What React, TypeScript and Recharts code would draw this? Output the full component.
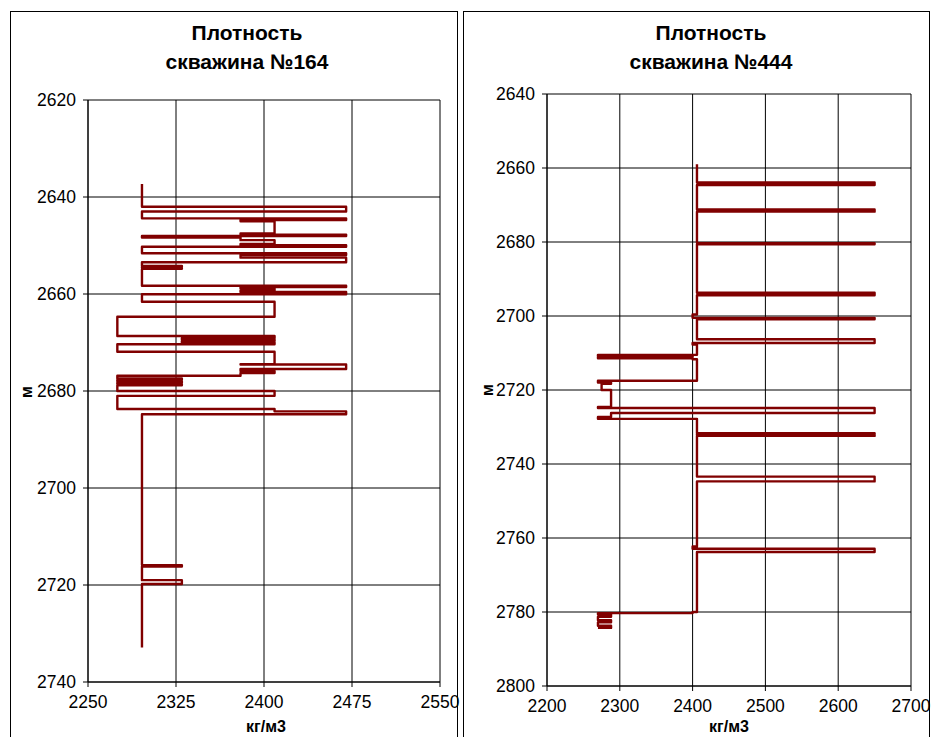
import { LineChart, Line, XAxis, YAxis, CartesianGrid } from "recharts";

// скважина №164 — path of the density log (kg/m3 vs depth m)
const well164Density = [
  2296, 2296, 2470, 2470, 2296, 2296, 2470, 2470, 2380, 2380, 2409, 2409, 2380, 2380, 2470, 2470,
  2296, 2296, 2380, 2380, 2409, 2409, 2380, 2380, 2470, 2470, 2296, 2296, 2470, 2470, 2380, 2380,
  2470, 2470, 2296, 2296, 2330, 2330, 2296, 2296, 2330, 2330, 2296, 2296, 2470, 2470, 2380, 2380,
  2409, 2409, 2380, 2380, 2470, 2470, 2296, 2296, 2409, 2409, 2275, 2275, 2409, 2409, 2330, 2330,
  2409, 2409, 2330, 2330, 2409, 2409, 2275, 2275, 2409, 2409, 2380, 2380, 2470, 2470, 2380, 2380,
  2409, 2409, 2380, 2380, 2275, 2275, 2330, 2330, 2275, 2275, 2330, 2330, 2275, 2275, 2330, 2330,
  2275, 2275, 2409, 2409, 2275, 2275, 2409, 2409, 2470, 2470, 2296, 2296, 2330, 2330, 2296, 2296,
  2330, 2330, 2296, 2296,
];
const well164Depth = [
  2637.3, 2642.0, 2642.0, 2643.0, 2643.0, 2644.4, 2644.4, 2644.75, 2644.75, 2645.0, 2645.0, 2647.5, 2647.5, 2647.75, 2647.75, 2648.05,
  2648.05, 2648.35, 2648.35, 2648.9, 2648.9, 2649.7, 2649.7, 2649.95, 2649.95, 2650.25, 2650.25, 2651.6, 2651.6, 2651.95, 2651.95, 2652.5,
  2652.5, 2653.45, 2653.45, 2654.2, 2654.2, 2654.4, 2654.4, 2654.6, 2654.6, 2654.8, 2654.8, 2658.3, 2658.3, 2658.55, 2658.55, 2658.85,
  2658.85, 2659.3, 2659.3, 2659.6, 2659.6, 2660.05, 2660.05, 2661.6, 2661.6, 2664.7, 2664.7, 2668.65, 2668.65, 2669.1, 2669.1, 2669.4,
  2669.4, 2669.7, 2669.7, 2670.0, 2670.0, 2670.35, 2670.35, 2671.9, 2671.9, 2674.45, 2674.45, 2674.55, 2674.55, 2675.45, 2675.45, 2675.9,
  2675.9, 2676.3, 2676.3, 2676.85, 2676.85, 2677.4, 2677.4, 2677.7, 2677.7, 2678.0, 2678.0, 2678.3, 2678.3, 2678.55, 2678.55, 2678.8,
  2678.8, 2680.0, 2680.0, 2681.0, 2681.0, 2683.7, 2683.7, 2684.2, 2684.2, 2684.8, 2684.8, 2715.9, 2715.9, 2716.2, 2716.2, 2719.0,
  2719.0, 2719.8, 2719.8, 2732.9,
];

// скважина №444
const well444Density = [
  2406, 2406, 2650, 2650, 2406, 2406, 2650, 2650, 2406, 2406, 2650, 2650, 2406, 2406, 2650, 2650, 2406,
  2406, 2400, 2400, 2650, 2650, 2406,
  2406, 2650, 2650, 2400, 2400, 2406,
  2406, 2270, 2270, 2400, 2400, 2270, 2270, 2400, 2400, 2406,
  2406, 2270, 2270, 2288, 2288, 2275, 2275, 2288, 2288, 2270, 2270, 2650, 2650, 2288, 2288, 2270, 2270, 2406,
  2406, 2650, 2650, 2406, 2406, 2650, 2650, 2406,
  2406, 2650, 2650, 2406,
  2406, 2400, 2400, 2650, 2650, 2406,
  2406, 2400, 2400, 2270, 2270, 2288, 2288, 2270, 2270, 2288, 2288, 2270, 2270, 2288, 2288, 2270,
];
const well444Depth = [
  2659.0, 2663.9, 2663.9, 2664.6, 2664.6, 2671.2, 2671.2, 2671.8, 2671.8, 2680.3, 2680.3, 2680.6, 2680.6, 2693.7, 2693.7, 2694.4, 2694.4,
  2699.6, 2699.6, 2700.5, 2700.5, 2700.9, 2700.9,
  2706.3, 2706.3, 2707.3, 2707.3, 2707.7, 2707.7,
  2710.5, 2710.5, 2710.8, 2710.8, 2711.1, 2711.1, 2711.4, 2711.4, 2711.7, 2711.7,
  2717.5, 2717.5, 2718.0, 2718.0, 2718.3, 2718.3, 2720.0, 2720.0, 2724.6, 2724.6, 2724.85, 2724.85, 2726.2, 2726.2, 2727.3, 2727.3, 2727.8, 2727.8,
  2731.7, 2731.7, 2731.95, 2731.95, 2732.15, 2732.15, 2732.4, 2732.4,
  2743.4, 2743.4, 2744.7, 2744.7,
  2762.3, 2762.3, 2762.9, 2762.9, 2763.8, 2763.8,
  2780.0, 2780.0, 2780.3, 2780.3, 2780.6, 2780.6, 2781.3, 2781.3, 2782.2, 2782.2, 2782.8, 2782.8, 2783.7, 2783.7, 2784.3, 2784.3,
];

const well164DensityTicks = [2250, 2325, 2400, 2475, 2550];
const well164DepthTicks = [2620, 2640, 2660, 2680, 2700, 2720, 2740];
const well444DensityTicks = [2200, 2300, 2400, 2500, 2600, 2700];
const well444DepthTicks = [2640, 2660, 2680, 2700, 2720, 2740, 2760, 2780, 2800];

const font = '"Liberation Sans", Arial, sans-serif';
const logColor = "#800000";

interface LogPanelProps {
  title: string;
  density: number[];
  depth: number[];
  xTicks: number[];
  yTicks: number[];
  left: number;
  width: number;
  margin: { top: number; right: number; left: number; bottom: number };
  frame: { left: number; width: number };
  titleX: number;
  yLabel: { x: number; y: number };
  xLabelX: number;
}

const LogPanel = (p: LogPanelProps) => {
  const data = p.density.map((d, i) => ({ density: d, depth: p.depth[i] }));
  const tick = { fontSize: 17.5, fill: "#000", fontFamily: font };
  return (
    <>
      <div
        style={{
          position: "absolute",
          left: p.frame.left,
          top: 11,
          width: p.frame.width,
          height: 740,
          border: "1px solid #000",
          boxSizing: "border-box",
        }}
      />
      <div
        style={{
          position: "absolute",
          left: p.titleX - 150,
          top: 18,
          width: 300,
          textAlign: "center",
          fontFamily: font,
          fontWeight: "bold",
          fontSize: 21,
          lineHeight: "29px",
        }}
      >
        Плотность
        <br />
        {p.title}
      </div>
      <div style={{ position: "absolute", left: p.left, top: 0 }}>
        <LineChart width={p.width} height={737} data={data} layout="vertical" margin={p.margin}>
          <CartesianGrid stroke="#000" strokeWidth={1} />
          <XAxis
            type="number"
            dataKey="density"
            domain={[p.xTicks[0], p.xTicks[p.xTicks.length - 1]]}
            ticks={p.xTicks}
            interval={0}
            allowDataOverflow
            height={30}
            tick={tick}
            tickSize={5}
            tickMargin={9}
            stroke="#000"
          />
          <YAxis
            type="number"
            dataKey="depth"
            domain={[p.yTicks[0], p.yTicks[p.yTicks.length - 1]]}
            ticks={p.yTicks}
            interval={0}
            allowDataOverflow
            width={50}
            tick={tick}
            tickSize={5}
            tickMargin={7}
            stroke="#000"
          />
          <Line
            dataKey="density"
            stroke={logColor}
            strokeWidth={2.4}
            strokeLinejoin="round"
            dot={false}
            isAnimationActive={false}
          />
        </LineChart>
      </div>
      <div
        style={{
          position: "absolute",
          left: p.yLabel.x - 20,
          top: p.yLabel.y - 10,
          width: 40,
          height: 20,
          lineHeight: "20px",
          textAlign: "center",
          transform: "rotate(-90deg)",
          fontFamily: font,
          fontWeight: "bold",
          fontSize: 16,
        }}
      >
        м
      </div>
      <div
        style={{
          position: "absolute",
          left: p.xLabelX - 60,
          top: 717,
          width: 120,
          textAlign: "center",
          fontFamily: font,
          fontWeight: "bold",
          fontSize: 16,
          lineHeight: "20px",
        }}
      >
        кг/м3
      </div>
    </>
  );
};

export default function App() {
  return (
    <div style={{ position: "absolute", left: 0, top: 0, width: 932, height: 737, overflow: "hidden", background: "#fff" }}>
      <LogPanel
        title="скважина №164"
        density={well164Density}
        depth={well164Depth}
        xTicks={well164DensityTicks}
        yTicks={well164DepthTicks}
        left={0}
        width={460}
        margin={{ top: 100, right: 20, left: 38, bottom: 25 }}
        frame={{ left: 10, width: 448 }}
        titleX={247}
        yLabel={{ x: 27, y: 392 }}
        xLabelX={266}
      />
      <LogPanel
        title="скважина №444"
        density={well444Density}
        depth={well444Depth}
        xTicks={well444DensityTicks}
        yTicks={well444DepthTicks}
        left={460}
        width={472}
        margin={{ top: 94, right: 21, left: 37, bottom: 21 }}
        frame={{ left: 463, width: 467 }}
        titleX={711}
        yLabel={{ x: 488, y: 390 }}
        xLabelX={729}
      />
    </div>
  );
}
